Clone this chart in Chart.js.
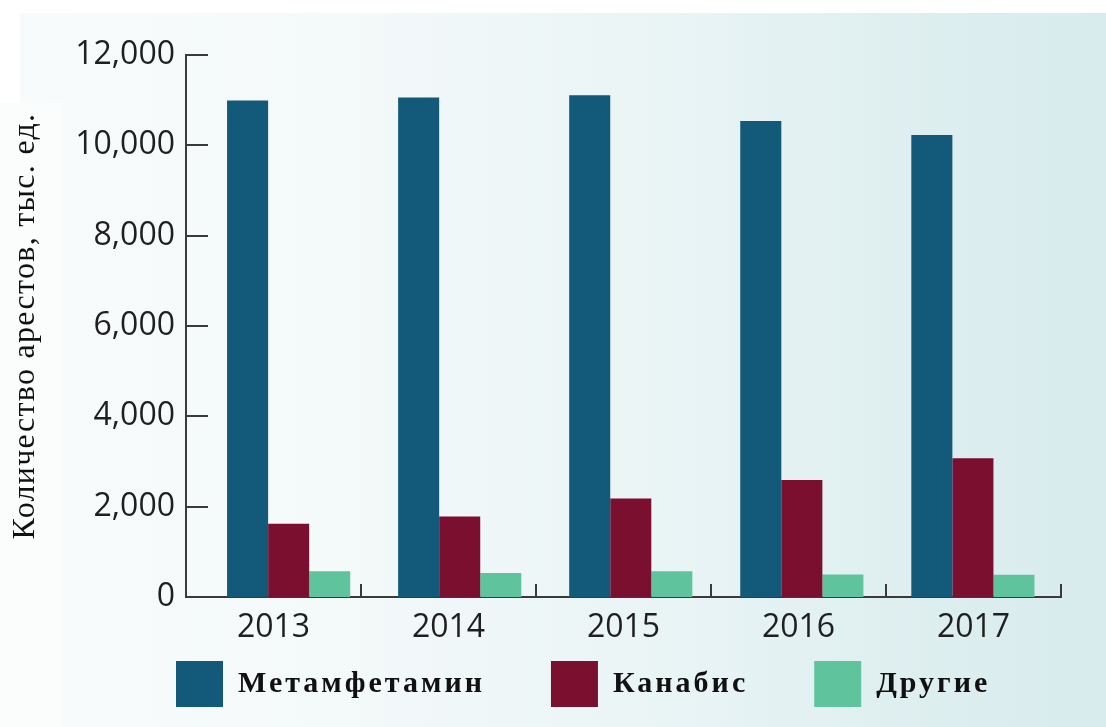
<!DOCTYPE html>
<html>
<head>
<meta charset="utf-8">
<script src="https://cdn.jsdelivr.net/npm/chart.js@4/dist/chart.umd.min.js"></script>
<style>
  html, body { margin: 0; padding: 0; background: #ffffff; }
  #wrap { position: relative; width: 1106px; height: 727px; overflow: hidden; background: #ffffff; }
  #panel { position: absolute; left: 20px; top: 13px; right: 0; bottom: 0;
    background: linear-gradient(90deg, #f8fbfc 0%, #f4f9fa 30%, #e9f4f5 60%, #dfeff0 80%, #d8ebed 100%); }
  #titlebg { position: absolute; left: 0; top: 103px; width: 63px; bottom: 0; background: #fbfdfd; }
  canvas { position: absolute; left: 0; top: 0; }
</style>
</head>
<body>
<div id="wrap">
  <div id="panel"></div>
  <div id="titlebg"></div>
  <canvas id="c" width="1106" height="727"></canvas>
</div>
<script>
const categories = ['2013', '2014', '2015', '2016', '2017'];
const seriesNames = ['Метамфетамин', 'Канабис', 'Другие'];
const methValues = [10990, 11060, 11110, 10540, 10230];
const cannabisValues = [1620, 1780, 2180, 2590, 3070];
const otherValues = [570, 530, 570, 500, 490];
const yTicks = [0, 2000, 4000, 6000, 8000, 10000, 12000];
const yTitle = 'Количество арестов, тыс. ед.';

const colors = ['#12597a', '#7b0f2f', '#5fc49d'];
const axisColor = '#3a3a3a';

const toPoints = arr => arr.map((v, i) => ({ x: i, y: v }));

const innerTicks = {
  id: 'innerTicks',
  afterDatasetsDraw(chart) {
    const ctx = chart.ctx;
    const x = chart.scales.x, y = chart.scales.y;
    const area = chart.chartArea;
    ctx.save();
    ctx.strokeStyle = axisColor;
    ctx.lineWidth = 2;
    ctx.beginPath();
    y.ticks.forEach(t => {
      const py = Math.round(y.getPixelForValue(t.value));
      ctx.moveTo(area.left, py);
      ctx.lineTo(area.left + 22, py);
    });
    const n = categories.length;
    const half = (x.getPixelForValue(1) - x.getPixelForValue(0)) / 2;
    for (let i = 0; i < n; i++) {
      const px = Math.round(x.getPixelForValue(i) + half);
      ctx.moveTo(px, area.bottom);
      ctx.lineTo(px, area.bottom - 13);
    }
    ctx.stroke();
    ctx.restore();
  }
};

const legendPad = 66;
const layoutHack = {
  id: 'layoutHack',
  beforeLayout(chart) {
    const lg = chart.legend;
    if (lg && !lg._fitWrapped) {
      const origFit = lg.fit.bind(lg);
      lg.fit = function() { origFit(); this.height = 56; };
      lg._fitWrapped = true;
    }
  },
  afterLayout(chart) {
    const lg = chart.legend;
    if (lg) {
      lg.top = 661 - legendPad;
      lg.left = 176 - legendPad;
      if (!lg._wrapped) {
        const orig = lg.draw.bind(lg);
        lg.draw = function() {
          const c = chart.ctx;
          const prev = c.letterSpacing;
          c.letterSpacing = '3px';
          orig();
          c.letterSpacing = prev || '0px';
        };
        lg._wrapped = true;
      }
    }
    const ys = chart.scales.y;
    if (ys && !ys._wrapped) {
      const origT = ys.drawTitle.bind(ys);
      ys.drawTitle = function() {
        const c = chart.ctx;
        const prev = c.letterSpacing;
        c.letterSpacing = '1.3px';
        origT();
        c.letterSpacing = prev || '0px';
      };
      ys._wrapped = true;
    }
  }
};

new Chart(document.getElementById('c'), {
  type: 'bar',
  data: {
    labels: categories,
    datasets: [
      { label: seriesNames[0], data: toPoints(methValues), backgroundColor: colors[0], xAxisID: 'xb' },
      { label: seriesNames[1], data: toPoints(cannabisValues), backgroundColor: colors[1], xAxisID: 'xb' },
      { label: seriesNames[2], data: toPoints(otherValues), backgroundColor: colors[2], xAxisID: 'xb' }
    ]
  },
  options: {
    responsive: false,
    devicePixelRatio: 1,
    animation: false,
    datasets: { bar: { categoryPercentage: 0.72, barPercentage: 1.0 } },
    layout: { padding: { top: 55, right: 45, left: 0, bottom: 8 } },
    plugins: {
      tooltip: { enabled: false },
      legend: {
        position: 'bottom',
        align: 'start',
        labels: {
          boxWidth: 47,
          boxHeight: 46,
          padding: legendPad,
          color: '#111111',
          font: { family: 'Liberation Serif', size: 30, weight: 'bold' }
        }
      }
    },
    scales: {
      x: {
        type: 'category',
        display: true,
        grid: { display: true, drawOnChartArea: false, drawTicks: true, tickLength: 8, color: 'rgba(0,0,0,0)' },
        border: { display: true, color: axisColor, width: 2 },
        ticks: { color: '#1f1f1f', padding: 4, autoSkip: false, maxRotation: 0, font: { family: 'Open Sans', size: 32 } },
        afterFit(s) { s.height = 66; }
      },
      xb: {
        type: 'linear',
        display: false,
        min: -0.6,
        max: 4.515,
        offset: false,
        afterBuildTicks(s) { s.ticks = categories.map((c, i) => ({ value: i })); }
      },
      y: {
        min: 0, max: 12000,
        afterBuildTicks(s) { s.ticks = yTicks.map(v => ({ value: v })); },
        grid: { display: false, drawTicks: false },
        border: { display: true, color: axisColor, width: 2 },
        ticks: {
          color: '#1f1f1f', padding: 11,
          font: { family: 'Open Sans', size: 32 },
          callback: v => Number(v).toLocaleString('en-US')
        },
        title: {
          display: true, text: yTitle, color: '#111111',
          font: { family: 'Liberation Serif', size: 32 },
          padding: { top: 6, bottom: 0 }
        },
        afterFit(s) { s.width = 186; }
      }
    }
  },
  plugins: [innerTicks, layoutHack]
});
</script>
</body>
</html>
